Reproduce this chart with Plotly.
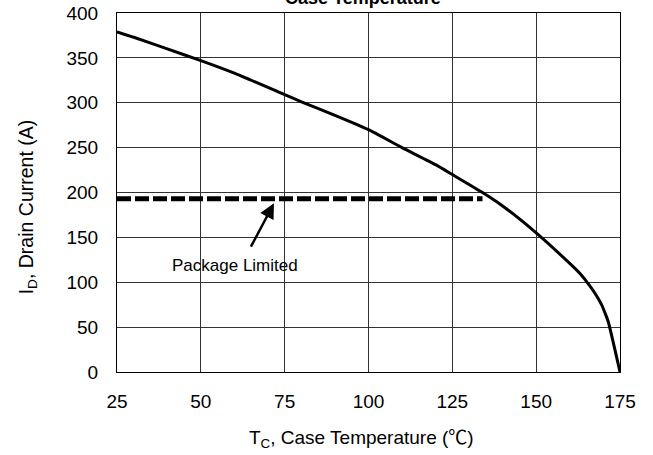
import plotly.graph_objects as go

# Maximum continuous drain current vs. case temperature
case_temp = [25, 30, 40, 50, 60, 75, 80, 90, 100, 110, 120, 125, 134, 140, 150, 160, 163, 166, 168, 169.5, 170.5, 171.5, 175]
drain_current = [379, 373, 360, 347, 333, 309, 301, 286, 270, 250, 231, 220, 200, 185, 155, 121, 110, 96, 85, 75, 66, 56, 0]

# Package limit
pkg_temp = [25, 134]
pkg_current = [193, 193]

x_ticks = [25, 50, 75, 100, 125, 150, 175]
y_ticks = [0, 50, 100, 150, 200, 250, 300, 350, 400]

FONT = "Liberation Sans, Arial, sans-serif"

fig = go.Figure()
fig.add_trace(go.Scatter(x=pkg_temp, y=pkg_current, mode="lines",
                         line=dict(color="black", width=5, dash="14px,4px"),
                         showlegend=False, hoverinfo="skip"))
fig.add_trace(go.Scatter(x=case_temp, y=drain_current, mode="lines",
                         line=dict(color="black", width=3, shape="spline", smoothing=0.5),
                         showlegend=False))

fig.update_xaxes(range=[25, 175], tickvals=x_ticks, ticktext=[str(v) for v in x_ticks],
                 showgrid=True, gridcolor="#333333", gridwidth=1,
                 showline=True, linecolor="black", linewidth=1, mirror=True,
                 zeroline=False, ticks="", ticklabelstandoff=12, automargin=False,
                 tickfont=dict(family=FONT, size=19, color="black"))
fig.update_yaxes(range=[0, 400], tickvals=y_ticks,
                 showgrid=True, gridcolor="#333333", gridwidth=1,
                 showline=True, linecolor="black", linewidth=1, mirror=True,
                 zeroline=False, ticks="", ticklabelstandoff=14, automargin=False,
                 tickfont=dict(family=FONT, size=19, color="black"))

annotations = [
    dict(text="T<sub>C</sub>, Case Temperature (<span style=\"font-family:'Noto Sans CJK SC'\">℃</span>)",
         xref="paper", yref="paper",
         x=0.487, y=-0.181, xanchor="center", yanchor="middle", showarrow=False,
         font=dict(family=FONT, size=19, color="black")),
    dict(text="I<sub>D</sub>, Drain Current (A)", xref="paper", yref="paper",
         x=-0.178, y=0.46, xanchor="center", yanchor="middle", showarrow=False,
         textangle=-90, font=dict(family=FONT, size=19.5, color="black")),
    dict(text="<b>Case Temperature</b>", xref="paper", yref="paper",
         x=0.49, y=1.008, xanchor="center", yanchor="bottom", showarrow=False,
         font=dict(family=FONT, size=18, color="black")),
    dict(text="Package Limited", xref="x", yref="y", x=60.2, y=119,
         xanchor="center", yanchor="middle", showarrow=False,
         font=dict(family=FONT, size=17, color="black")),
    dict(text="", xref="x", yref="y", x=71.8, y=188, axref="x", ayref="y",
         ax=64.7, ay=138, showarrow=True, arrowhead=2, arrowsize=1.2,
         arrowwidth=2.5, arrowcolor="black"),
]

fig.update_layout(width=653, height=455,
                  margin=dict(l=117, r=33, t=13, b=83),
                  paper_bgcolor="white", plot_bgcolor="white",
                  annotations=annotations)

fig.write_html("out.html")
